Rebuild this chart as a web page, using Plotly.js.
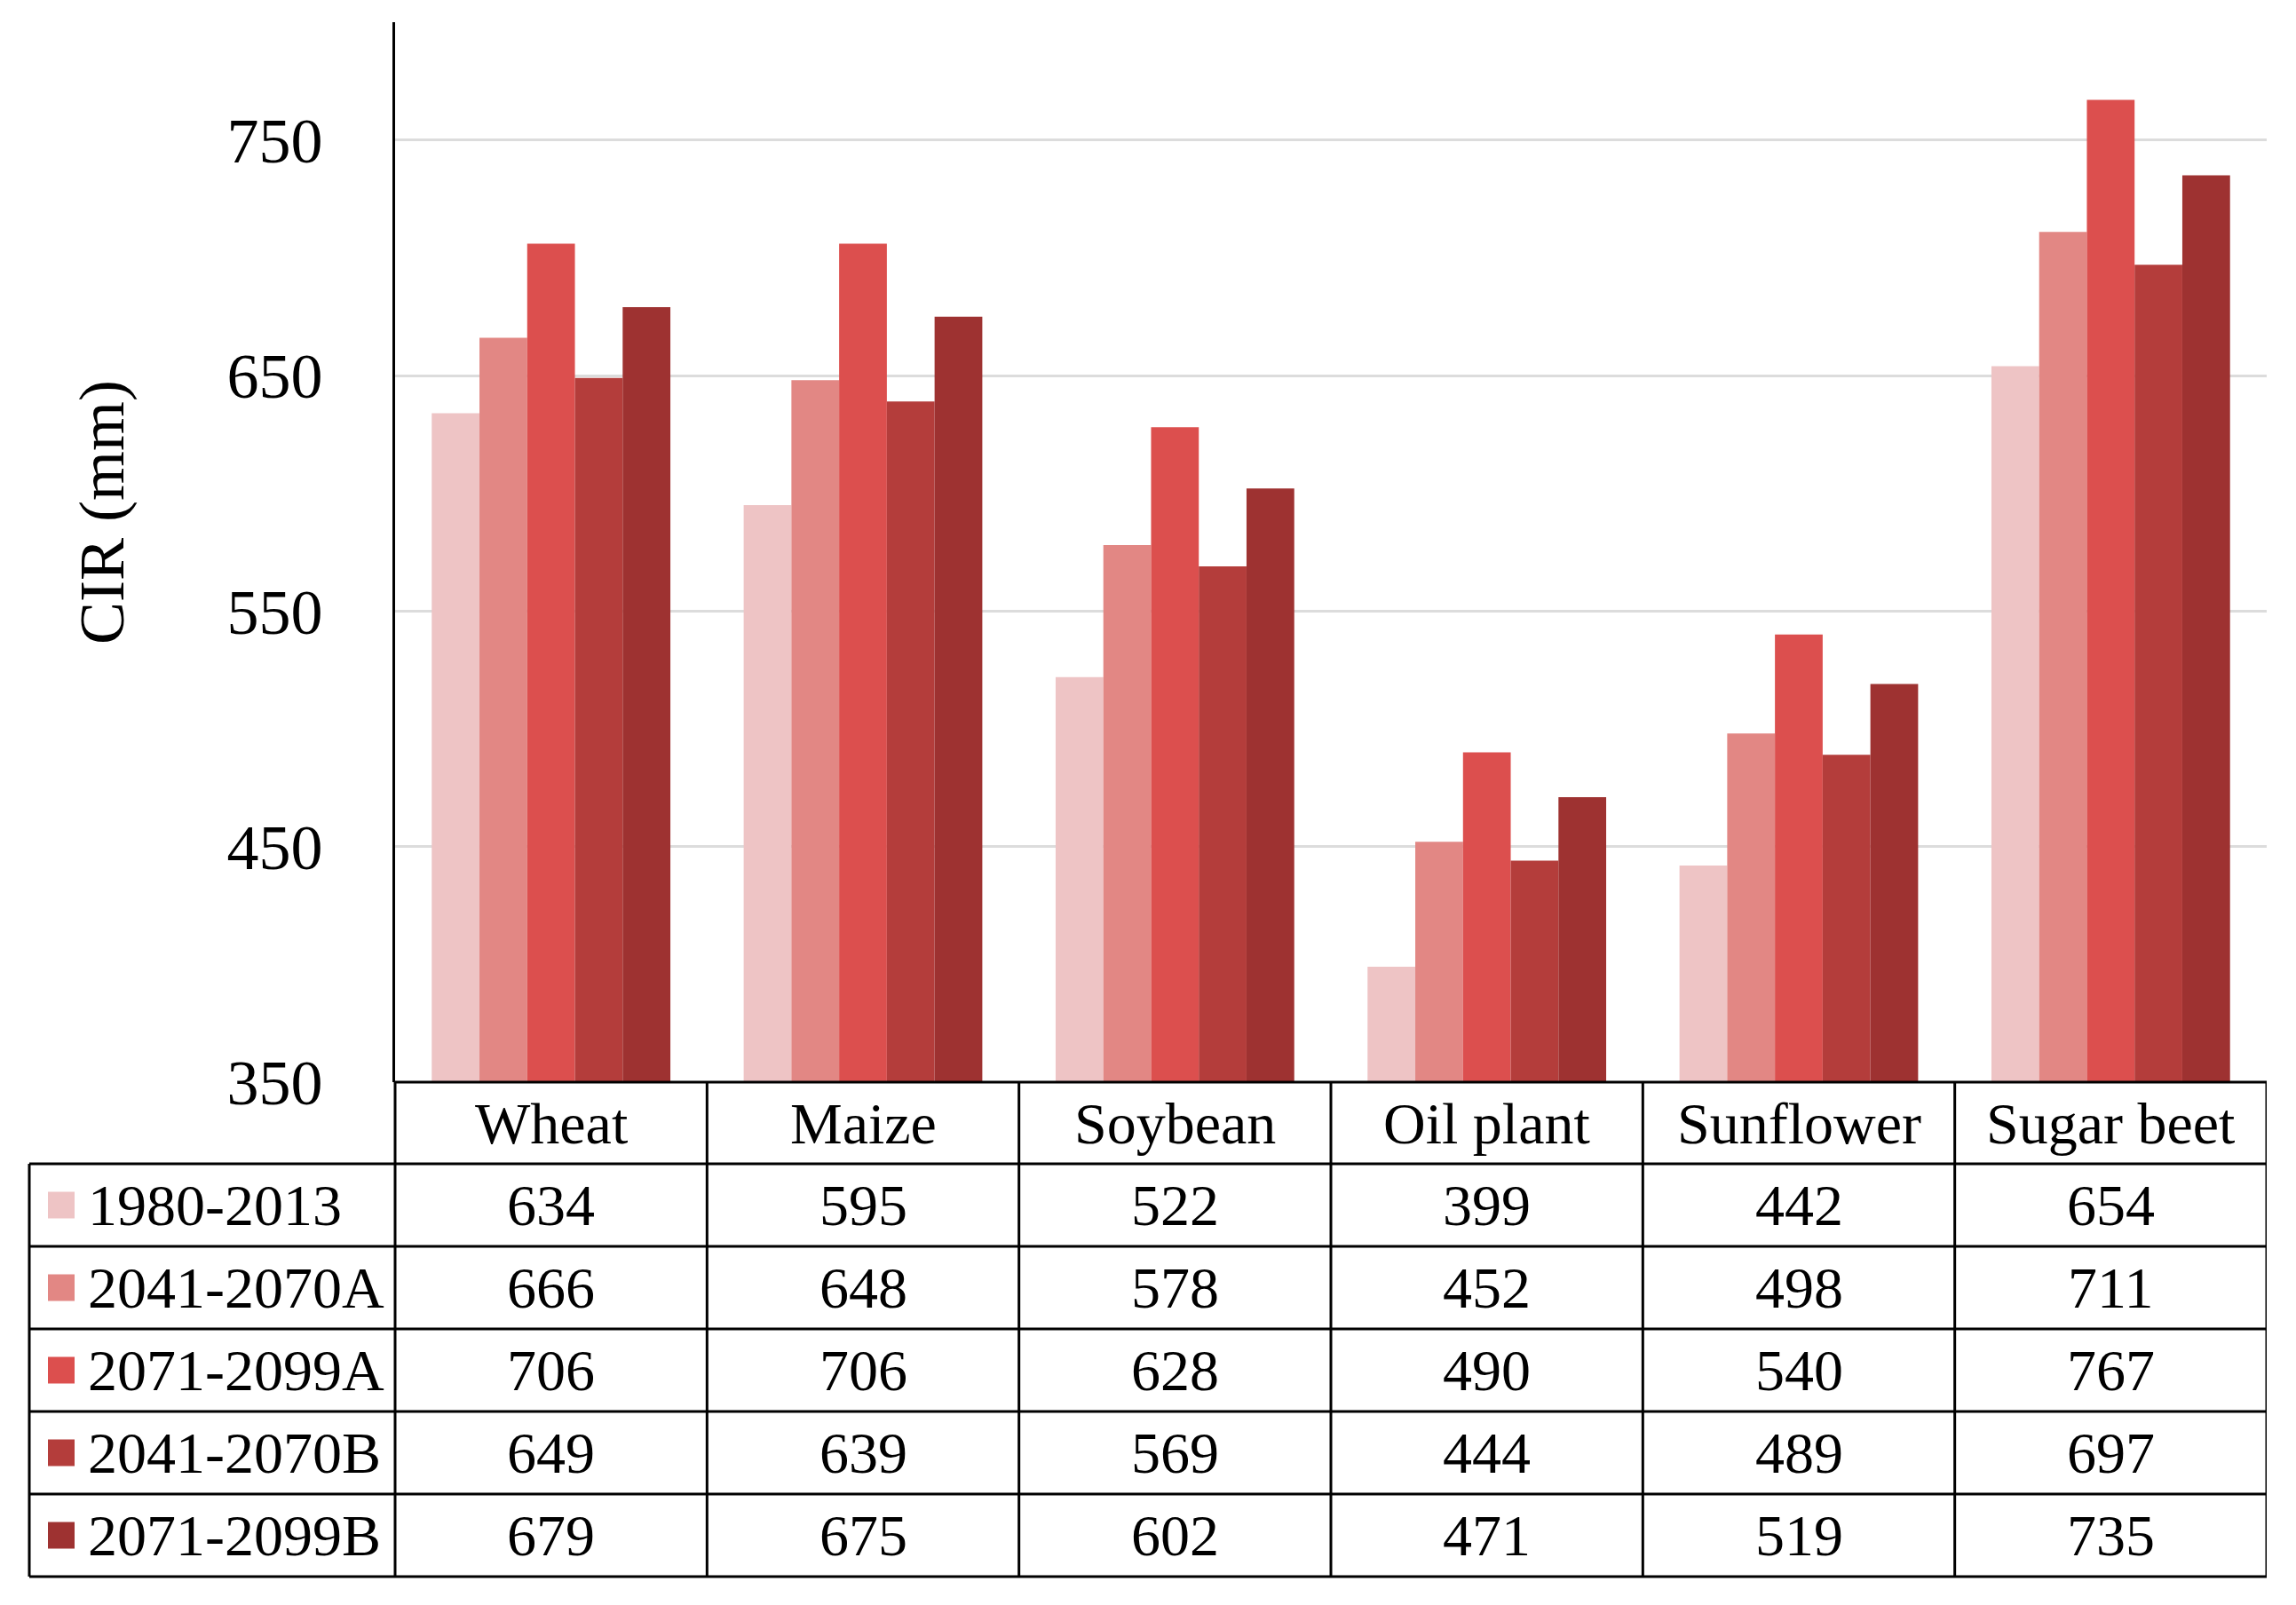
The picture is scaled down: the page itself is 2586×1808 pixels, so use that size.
<!DOCTYPE html>
<html><head><meta charset="utf-8">
<script src="https://cdn.plot.ly/plotly-3.0.1.min.js"></script>
<style>html,body{margin:0;padding:0;background:#fff}</style>
</head><body><div id="chart" style="width:2586px;height:1808px"></div>
<script>
// ---- data ----
const crops = ['Wheat','Maize','Soybean','Oil plant','Sunflower','Sugar beet'];
const periods = ['1980-2013','2041-2070A','2071-2099A','2041-2070B','2071-2099B'];
const cir1980_2013  = [634,595,522,399,442,654];
const cir2041_2070A = [666,648,578,452,498,711];
const cir2071_2099A = [706,706,628,490,540,767];
const cir2041_2070B = [649,639,569,444,489,697];
const cir2071_2099B = [679,675,602,471,519,735];
const yTicks = [350,450,550,650,750];
const yTitle = 'CIR (mm)';
// ---- styles ----
const colors = ['#EEC4C5','#E28784','#DC4F4E','#B43D3B','#9E3231'];
const series = [cir1980_2013, cir2041_2070A, cir2071_2099A, cir2041_2070B, cir2071_2099B];

const W=2586, H=1808, L=445, R=2553, T=25, B=1219;
const tableLeft=33, headerBottom=1311, rowH=93;
const px = x => (x-L)/(R-L);
const py = y => (B-y)/(B-T);
const FONT = '"Liberation Serif","Times New Roman",serif';

const traces = series.map((vals,k)=>({
  type:'bar', name:periods[k], x:crops, y:vals,
  marker:{color:colors[k], line:{width:0}},
  hoverinfo:'x+y+name', showlegend:false
}));

const shapes = [];
const annotations = [];
const line = (xref,x0,x1,yref,y0,y1)=>shapes.push({type:'line',xref:xref,yref:yref,x0:x0,x1:x1,y0:y0,y1:y1,line:{color:'#000',width:3},layer:'above'});

const tableBottom = headerBottom + rowH*periods.length;
// horizontal lines
line('paper',0,1,'paper',py(B),py(B));
for(let r=0;r<=periods.length;r++){
  const y = headerBottom + rowH*r;
  line('paper',px(tableLeft),1,'paper',py(y),py(y));
}
// vertical lines
line('paper',px(tableLeft),px(tableLeft),'paper',py(headerBottom),py(tableBottom));
line('paper',0,0,'paper',py(B),py(tableBottom));
for(let i=0;i<crops.length;i++){
  line('x',i+0.5,i+0.5,'paper',py(B),py(tableBottom));
}
// header
crops.forEach((c,i)=>annotations.push({xref:'x',yref:'paper',x:c,y:py((B+headerBottom)/2),text:c,showarrow:false,xanchor:'center',yanchor:'middle',font:{family:FONT,size:66,color:'#000'}}));
// rows
periods.forEach((p,k)=>{
  const yc = py(headerBottom + rowH*(k+0.5));
  shapes.push({type:'rect',xref:'paper',yref:'paper',x0:px(54),x1:px(84),y0:yc-15/(B-T),y1:yc+15/(B-T),fillcolor:colors[k],line:{width:0}});
  annotations.push({xref:'paper',yref:'paper',x:px(97),y:yc,text:p,showarrow:false,xanchor:'left',yanchor:'middle',font:{family:FONT,size:66,color:'#000'}});
  crops.forEach((c,i)=>annotations.push({xref:'x',yref:'paper',x:c,y:yc,text:String(series[k][i]),showarrow:false,xanchor:'center',yanchor:'middle',font:{family:FONT,size:66,color:'#000'}}));
});
// y title
annotations.push({xref:'paper',yref:'paper',x:px(115),y:py(577),text:yTitle,textangle:-90,showarrow:false,xanchor:'center',yanchor:'middle',font:{family:FONT,size:72,color:'#000'}});

const layout = {
  width:W, height:H,
  margin:{l:L, r:W-R, t:T, b:H-B, pad:0},
  paper_bgcolor:'#fff', plot_bgcolor:'#fff',
  barmode:'group', bargap:0.235, bargroupgap:0,
  showlegend:false,
  font:{family:FONT, color:'#000'},
  xaxis:{type:'category', range:[-0.5,5.5], showticklabels:false, showline:false, showgrid:false, zeroline:false, ticks:''},
  yaxis:{range:[350,800], tickvals:yTicks, ticktext:yTicks.map(String), showgrid:true, gridcolor:'#dcdcdc', gridwidth:3,
         showline:true, linecolor:'#000', linewidth:3, zeroline:false, ticks:'', ticklabelstandoff:64,
         tickfont:{family:FONT,size:72,color:'#000'}},
  shapes:shapes, annotations:annotations
};
Plotly.newPlot('chart', traces, layout, {displayModeBar:false, staticPlot:true});
</script></body></html>
